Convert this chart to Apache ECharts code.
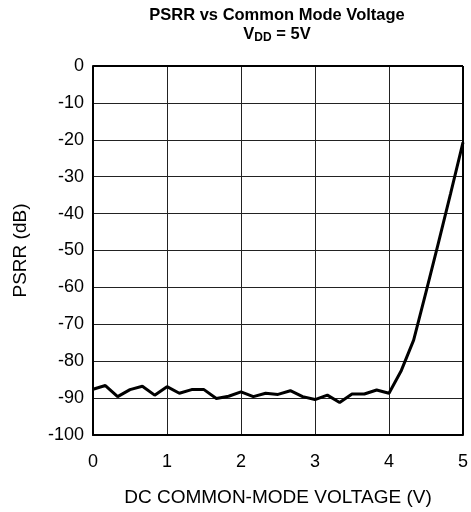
<!DOCTYPE html>
<html>
<head>
<meta charset="utf-8">
<script src="https://cdn.jsdelivr.net/npm/echarts@6/dist/echarts.min.js"></script>
<style>
    html, body { margin: 0; padding: 0; background: #fff; }
    #main { width: 471px; height: 512px; }
</style>
</head>
<body>
<div id="main"></div>
<script>
// 共模电压 (V)
let voltage = [0, 0.167, 0.333, 0.5, 0.667, 0.833, 1.0, 1.167, 1.333, 1.5, 1.667, 1.833, 2.0, 2.167, 2.333, 2.5, 2.667, 2.833, 3.0, 3.167, 3.333, 3.5, 3.667, 3.833, 4.0, 4.167, 4.333, 4.5, 4.667, 4.833, 5.0]
// PSRR (dB)
let psrr = [-87.6, -86.6, -89.6, -87.7, -86.8, -89.2, -86.9, -88.7, -87.7, -87.7, -90.1, -89.5, -88.3, -89.6, -88.7, -89.0, -88.0, -89.6, -90.4, -89.2, -91.2, -88.9, -88.9, -87.8, -88.7, -82.5, -74.3, -61.3, -48.0, -34.5, -20.7]

function renderChart() {
    var chartDom = document.getElementById('main')
    var myChart = echarts.init(chartDom)
    let font = 'Liberation Sans, Arial, sans-serif'
    let points = voltage.map(function (v, i) { return [v, psrr[i]] })
    var option = {
        animation: false,
        title: {
            text: 'PSRR vs Common Mode Voltage',
            subtext: '{v|V}{s|DD}{v| = 5V}',
            left: 272,
            textAlign: 'center',
            top: 1,
            itemGap: 0,
            textStyle: { fontFamily: font, fontSize: 16.5, fontWeight: 'bold', color: '#000', lineHeight: 18 },
            subtextStyle: {
                rich: {
                    v: { fontFamily: font, fontSize: 16.5, fontWeight: 'bold', color: '#000' },
                    s: { fontFamily: font, fontSize: 12, fontWeight: 'bold', color: '#000', verticalAlign: 'bottom', padding: [8, 0, 0, 0] }
                }
            }
        },
        grid: { left: 93, right: 6, top: 66, bottom: 77 },
        xAxis: {
            type: 'value',
            min: 0,
            max: 5,
            interval: 1,
            name: 'DC COMMON-MODE VOLTAGE (V)',
            nameLocation: 'middle',
            nameGap: 53,
            nameTextStyle: { fontFamily: font, fontSize: 19, color: '#000' },
            axisLine: { show: true, onZero: false, lineStyle: { color: '#000', width: 2 } },
            axisTick: { show: false },
            axisLabel: { fontFamily: font, fontSize: 18, color: '#000', margin: 18 },
            splitLine: { show: true, lineStyle: { color: '#222', width: 1 } }
        },
        yAxis: {
            type: 'value',
            min: -100,
            max: 0,
            interval: 10,
            name: 'PSRR (dB)',
            nameLocation: 'middle',
            nameGap: 63,
            nameTextStyle: { fontFamily: font, fontSize: 19, color: '#000' },
            axisLine: { show: true, lineStyle: { color: '#000', width: 2 } },
            axisTick: { show: false },
            axisLabel: { fontFamily: font, fontSize: 18, color: '#000', margin: 9 },
            splitLine: { show: true, lineStyle: { color: '#222', width: 1 } }
        },
        series: [
            {
                type: 'line',
                data: points,
                showSymbol: false,
                lineStyle: { color: '#000', width: 3 },
                z: 3
            },
            {
                // 右侧和顶部边框
                type: 'line',
                data: [],
                markLine: {
                    silent: true,
                    symbol: 'none',
                    label: { show: false },
                    lineStyle: { color: '#000', width: 2, type: 'solid' },
                    data: [{ xAxis: 5 }, { yAxis: 0 }]
                }
            }
        ]
    }
    option && myChart.setOption(option)
}
renderChart()
</script>
</body>
</html>
